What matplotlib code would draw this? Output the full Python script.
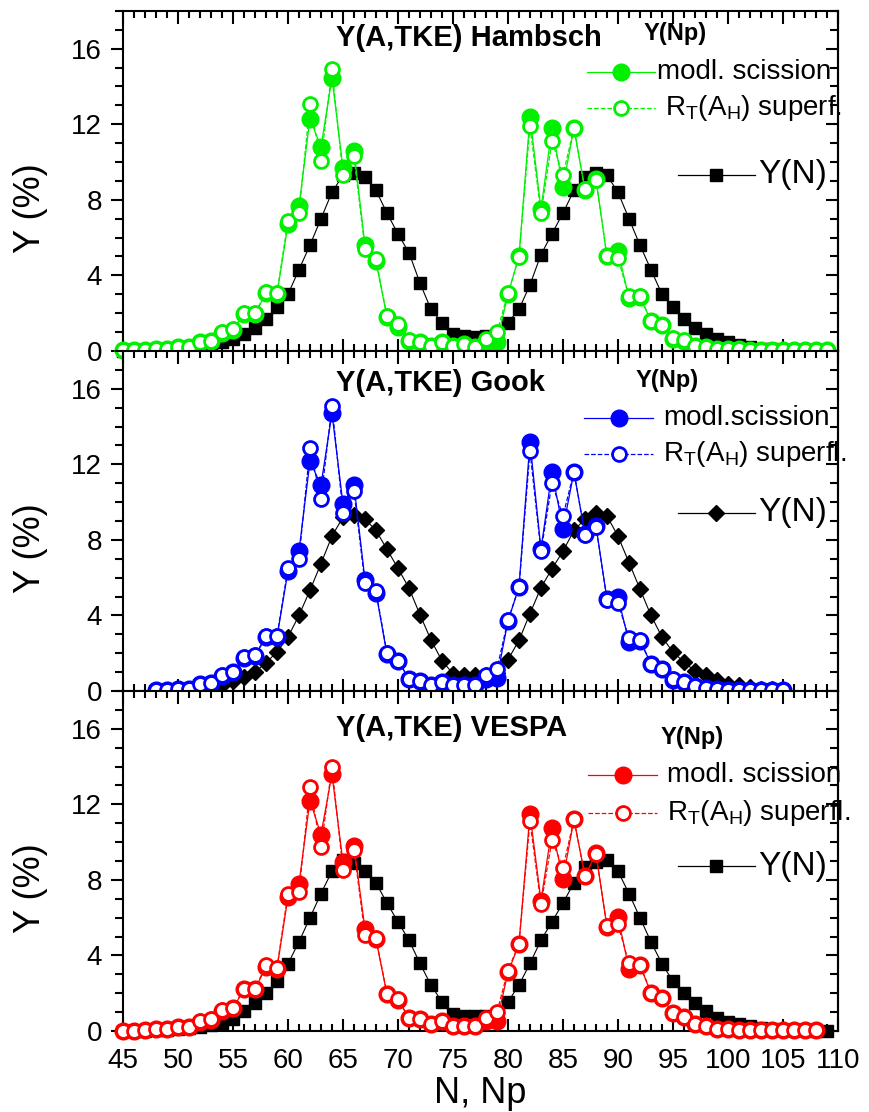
import matplotlib
matplotlib.use("Agg")
import matplotlib.pyplot as plt
from matplotlib.ticker import MultipleLocator

plt.rcParams['font.family'] = ['Liberation Sans', 'DejaVu Sans']
plt.rcParams['mathtext.fontset'] = 'custom'
plt.rcParams['mathtext.rm'] = 'Liberation Sans'

# ---- Hambsch (top) ----
n_ham = list(range(45, 110))
ham_modl = [0.05, 0.05, 0.05, 0.1, 0.1, 0.2, 0.2, 0.45, 0.55, 0.95, 1.1, 1.95, 1.95, 3.05, 3.0,
            6.7, 7.65, 12.3, 10.8, 14.45, 9.7, 10.6, 5.6, 4.75, 1.8, 1.25, 0.55, 0.45, 0.27, 0.45,
            0.25, 0.35, 0.2, 0.5, 0.5, 3.0, 5.0, 12.4, 7.5, 11.8, 8.7, 11.8, 8.5, 9.1, 5.0,
            5.3, 2.8, 2.85, 1.6, 1.35, 0.65, 0.55, 0.27, 0.2, 0.12, 0.1, 0.08, 0.06, 0.05, 0.05,
            0.05, 0.05, 0.05, 0.05, 0.05]
ham_supf = [0.05, 0.05, 0.05, 0.1, 0.1, 0.2, 0.2, 0.5, 0.55, 1.0, 1.15, 2.0, 2.0, 3.1, 3.05,
            6.9, 7.3, 13.05, 10.05, 14.9, 9.3, 10.3, 5.4, 4.85, 1.85, 1.4, 0.58, 0.45, 0.27, 0.45,
            0.25, 0.35, 0.2, 0.65, 1.0, 3.05, 4.97, 11.9, 7.3, 11.1, 9.3, 11.8, 8.55, 9.05, 5.0,
            4.9, 2.9, 2.9, 1.6, 1.37, 0.67, 0.58, 0.27, 0.2, 0.12, 0.1, 0.08, 0.06, 0.05, 0.05,
            0.05, 0.05, 0.05, 0.05, 0.05]
ham_yn = [0.0, 0.01, 0.02, 0.03, 0.05, 0.08, 0.12, 0.2, 0.3, 0.45, 0.65, 0.9, 1.2, 1.7, 2.3,
          3.0, 4.3, 5.6, 7.0, 8.4, 9.3, 9.4, 9.2, 8.5, 7.3, 6.2, 5.2, 3.6, 2.2, 1.5,
          0.9, 0.8, 0.75, 0.8, 0.9, 1.5, 2.2, 3.5, 5.1, 6.2, 7.3, 8.5, 9.2, 9.4, 9.3,
          8.4, 7.0, 5.6, 4.3, 3.0, 2.3, 1.7, 1.2, 0.9, 0.65, 0.45, 0.3, 0.2, 0.12, 0.08,
          0.05, 0.03, 0.02, 0.01, 0.0]

# ---- Gook (middle) ----
n_gook = list(range(48, 106))
gook_modl = [0.05, 0.05, 0.1, 0.13, 0.38, 0.43, 0.8, 0.98, 1.75, 1.85, 2.85, 2.85,
             6.33, 7.4, 12.15, 10.9, 14.7, 9.9, 10.9, 5.9, 5.2, 1.95, 1.6, 0.65, 0.55, 0.3,
             0.48, 0.3, 0.34, 0.3, 0.65, 0.7, 3.7, 5.5, 13.2, 7.5, 11.6, 8.6, 11.6, 8.3,
             8.75, 4.85, 4.97, 2.6, 2.65, 1.45, 1.15, 0.6, 0.45, 0.25, 0.15, 0.08, 0.06,
             0.05, 0.05, 0.04, 0.04, 0.03]
gook_supf = [0.05, 0.05, 0.1, 0.13, 0.39, 0.44, 0.83, 1.0, 1.8, 1.89, 2.9, 2.9,
             6.5, 7.0, 12.86, 10.14, 15.1, 9.44, 10.6, 5.7, 5.3, 2.0, 1.6, 0.66, 0.55, 0.31,
             0.48, 0.3, 0.34, 0.3, 0.83, 1.18, 3.74, 5.5, 12.7, 7.4, 11.0, 9.26, 11.6, 8.27,
             8.7, 4.84, 4.66, 2.8, 2.7, 1.45, 1.18, 0.62, 0.48, 0.25, 0.16, 0.08, 0.06,
             0.05, 0.05, 0.04, 0.04, 0.03]
n_gook_yn = list(range(49, 106))
gook_yn = [0.05, 0.08, 0.12, 0.18, 0.25, 0.33, 0.55, 0.75, 1.0, 1.5, 2.06,
           2.86, 4.0, 5.33, 6.74, 8.2, 9.2, 9.3, 9.1, 8.5, 7.5, 6.5, 5.45, 4.04, 2.7, 1.6,
           0.92, 0.85, 0.85, 0.85, 0.95, 1.66, 2.68, 4.1, 5.47, 6.47, 7.4, 8.5, 9.1, 9.4,
           9.26, 8.2, 6.8, 5.4, 4.0, 2.86, 2.06, 1.53, 1.06, 0.83, 0.57, 0.39, 0.3, 0.2,
           0.13, 0.08, 0.05]

# ---- VESPA (bottom) ----
n_vespa = list(range(45, 109))
vespa_modl = [0.0, 0.0, 0.05, 0.09, 0.09, 0.23, 0.23, 0.5, 0.6, 1.05, 1.2, 2.2, 2.2, 3.4, 3.3,
              7.1, 7.8, 12.2, 10.4, 13.6, 8.93, 9.78, 5.4, 4.85, 1.95, 1.65, 0.7, 0.62, 0.35,
              0.53, 0.26, 0.26, 0.26, 0.53, 0.53, 3.1, 4.6, 11.5, 6.9, 10.75, 8.05, 11.2, 8.2,
              9.4, 5.5, 6.04, 3.3, 3.5, 2.0, 1.75, 0.95, 0.72, 0.35, 0.26, 0.12, 0.09, 0.07,
              0.06, 0.05, 0.05, 0.04, 0.04, 0.03, 0.03]
vespa_supf = [0.0, 0.0, 0.05, 0.09, 0.09, 0.23, 0.23, 0.53, 0.62, 1.09, 1.23, 2.24, 2.24, 3.47,
              3.35, 7.28, 7.35, 12.9, 9.73, 13.97, 8.55, 9.6, 5.1, 4.93, 1.97, 1.67, 0.7, 0.62,
              0.35, 0.53, 0.26, 0.26, 0.26, 0.7, 1.0, 3.2, 4.63, 11.1, 6.7, 10.1, 8.63, 11.2,
              8.2, 9.37, 5.55, 5.64, 3.58, 3.52, 2.03, 1.76, 0.97, 0.74, 0.35, 0.26, 0.12,
              0.09, 0.07, 0.06, 0.05, 0.05, 0.04, 0.04, 0.03, 0.03]
n_vespa_yn = list(range(45, 110))
vespa_yn = [0.0, 0.01, 0.02, 0.04, 0.07, 0.1, 0.15, 0.22, 0.3, 0.4, 0.62, 1.06, 1.5, 2.0, 2.64,
            3.56, 4.72, 6.0, 7.28, 8.46, 9.07, 8.9, 8.46, 7.84, 6.78, 5.78, 4.81, 3.58, 2.43,
            1.55, 0.88, 0.8, 0.8, 0.8, 0.88, 1.55, 2.43, 3.58, 4.81, 5.78, 6.78, 7.84, 8.67,
            8.93, 9.07, 8.46, 7.28, 6.0, 4.72, 3.56, 2.64, 2.0, 1.5, 1.06, 0.7, 0.48, 0.35,
            0.25, 0.17, 0.11, 0.07, 0.05, 0.03, 0.02, 0.01]

fig = plt.figure(figsize=(8.69, 11.12), dpi=100)
left, width, height = 0.1415, 0.8228, 0.3058
bottoms = [0.6844, 0.3786, 0.0728]


def draw(ax, n, modl, supf, n_yn, yn, col, ymark, ysize, title, tx, ty, npx, npy, leg, last):
    ax.plot(n_yn, yn, color='k', lw=0.8, marker=ymark, ms=ysize, mec='k', mfc='k',
            clip_on=False, zorder=3)
    ax.plot(n, modl, color=col, lw=0.9, marker='o', ms=12, mfc=col, mec=col,
            clip_on=False, zorder=4)
    ax.plot(n, supf, color=col, lw=0.9, ls='--', marker='o', ms=10, mfc='white', mec=col,
            mew=2, clip_on=False, zorder=5)

    ax.set_xlim(45, 110)
    ax.set_ylim(0, 18)
    ax.xaxis.set_major_locator(MultipleLocator(5))
    ax.xaxis.set_minor_locator(MultipleLocator(1))
    ax.yaxis.set_major_locator(MultipleLocator(4))
    ax.yaxis.set_minor_locator(MultipleLocator(1))
    ax.tick_params(axis='x', which='both', direction='in', top=True, width=1.5)
    ax.tick_params(axis='x', which='major', length=9, labelsize=20, pad=12)
    ax.tick_params(axis='x', which='minor', length=5)
    ax.tick_params(axis='y', which='both', direction='out', right=False, width=1.5)
    ax.tick_params(axis='y', which='major', length=9, labelsize=20, pad=6)
    ax.tick_params(axis='y', which='minor', length=6)
    if not last:
        ax.tick_params(axis='x', labelbottom=False)
    for s in ax.spines.values():
        s.set_linewidth(1.5)

    sec = ax.secondary_yaxis('right')
    sec.yaxis.set_major_locator(MultipleLocator(4))
    sec.yaxis.set_minor_locator(MultipleLocator(1))
    sec.tick_params(which='both', direction='in', labelright=False, width=1.5)
    sec.tick_params(which='major', length=9)
    sec.tick_params(which='minor', length=6)
    sec.spines['right'].set_linewidth(1.5)

    ax.set_ylabel('Y (%)', fontsize=26)
    ax.yaxis.set_label_coords(-0.105, 0.42)

    ax.text(tx, ty, title, transform=ax.transAxes, fontsize=21, fontweight='bold',
            ha='left', va='center')
    ax.text(npx, npy, 'Y(Np)', transform=ax.transAxes, fontsize=17, fontweight='bold',
            ha='center', va='center')

    # hand made legend
    x0, x1, xm, xt, y1, y2, xt2, y3 = leg
    ax.plot([x0, x1], [y1, y1], color=col, lw=0.9, transform=ax.transAxes, clip_on=False)
    ax.plot([xm], [y1], marker='o', ms=12, color=col, transform=ax.transAxes, clip_on=False)
    ax.text(xt, y1, leg_text1[title], transform=ax.transAxes, fontsize=20, va='center')
    ax.plot([x0, x1], [y2, y2], color=col, lw=0.9, ls='--', transform=ax.transAxes,
            clip_on=False)
    ax.plot([xm], [y2], marker='o', ms=10, mfc='white', mec=col, mew=2,
            transform=ax.transAxes, clip_on=False)
    ax.text(xt2, y2, leg_text2[title], transform=ax.transAxes, fontsize=20, va='center')
    ax.plot([0.776, 0.884], [y3, y3], color='k', lw=0.9, transform=ax.transAxes,
            clip_on=False)
    ax.plot([0.829], [y3], marker=ymark, ms=ysize, color='k', transform=ax.transAxes,
            clip_on=False)
    ax.text(0.888, y3, 'Y(N)', transform=ax.transAxes, fontsize=24, va='center')


leg_text1 = {'Y(A,TKE) Hambsch': 'modl. scission',
             'Y(A,TKE) Gook': 'modl.scission',
             'Y(A,TKE) VESPA': 'modl. scission'}
leg_text2 = {'Y(A,TKE) Hambsch': r'R$_\mathregular{T}$(A$_\mathregular{H}$) superf.',
             'Y(A,TKE) Gook': r'R$_\mathregular{T}$(A$_\mathregular{H}$) superfl.',
             'Y(A,TKE) VESPA': r'R$_\mathregular{T}$(A$_\mathregular{H}$) superfl.'}

ax1 = fig.add_axes([left, bottoms[0], width, height])
draw(ax1, n_ham, ham_modl, ham_supf, n_ham, ham_yn, '#00f000', 's', 9,
     'Y(A,TKE) Hambsch', 0.298, 0.92, 0.772, 0.933,
     (0.649, 0.744, 0.697, 0.747, 0.821, 0.715, 0.758, 0.518), False)

ax2 = fig.add_axes([left, bottoms[1], width, height])
draw(ax2, n_gook, gook_modl, gook_supf, n_gook_yn, gook_yn, '#0000ff', 'D', 8,
     'Y(A,TKE) Gook', 0.298, 0.906, 0.761, 0.912,
     (0.645, 0.741, 0.694, 0.755, 0.804, 0.697, 0.755, 0.524), False)

ax3 = fig.add_axes([left, bottoms[2], width, height])
draw(ax3, n_vespa, vespa_modl, vespa_supf, n_vespa_yn, vespa_yn, '#ff0000', 's', 9,
     'Y(A,TKE) VESPA', 0.298, 0.89, 0.796, 0.862,
     (0.65, 0.747, 0.699, 0.761, 0.754, 0.642, 0.761, 0.484), True)
ax3.set_xlabel('N, Np', fontsize=26, labelpad=2)

fig.savefig('out.png', dpi=100)
